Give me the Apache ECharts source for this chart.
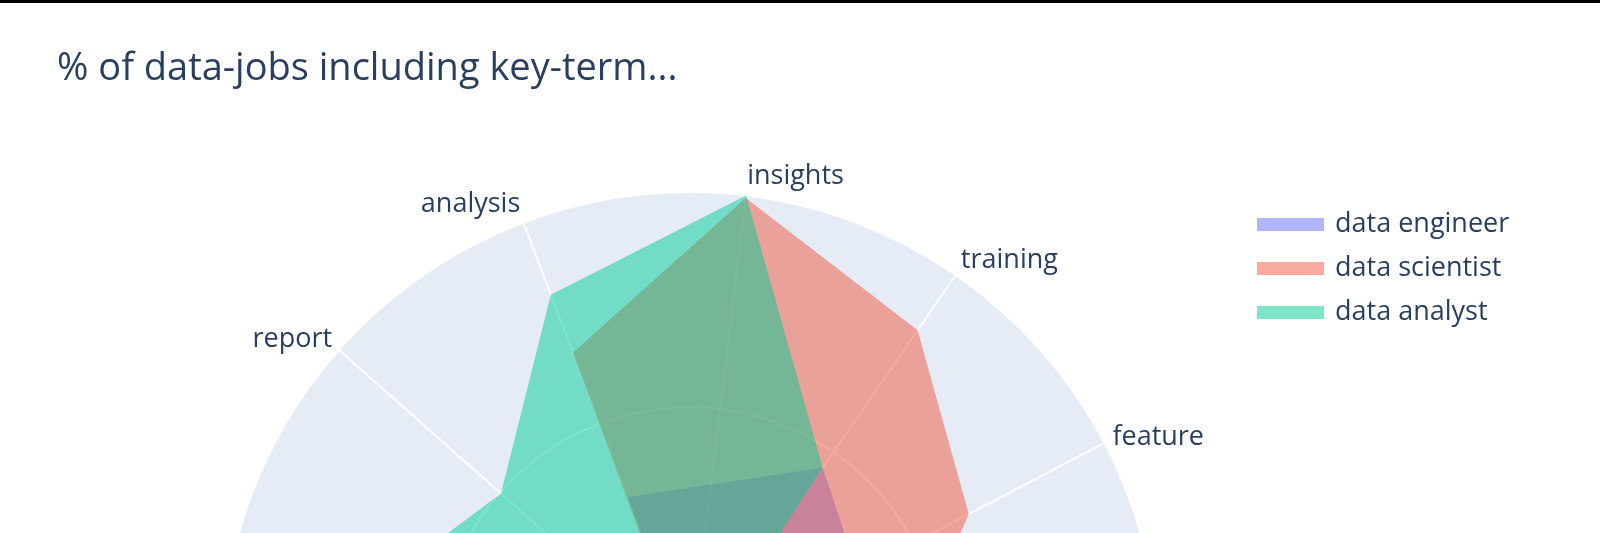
<!DOCTYPE html>
<html><head><meta charset="utf-8">
<script src="https://cdn.jsdelivr.net/npm/echarts@6/dist/echarts.min.js"></script>
<style>html,body{margin:0;padding:0;background:#fff}#c{width:1600px;height:533px}</style>
</head><body><div id="c"></div>
<script>
// ---- data ----
const categories = ['model', 'feature', 'training', 'insights', 'analysis', 'report', 'dashboard', 'sql', 'python', 'pipeline', 'cloud', 'etl', 'statistics'];
const seriesNames = ['data engineer', 'data scientist', 'data analyst'];
const engineerValues = [6, 15, 18.5, 14, 13.8, 0.2, 2, 30, 28, 35, 25, 22, 5];
const scientistValues = [17, 24.9, 31.7, 36.8, 26, 0.4, 3, 20, 30, 8, 10, 3, 25];
const analystValues = [2.5, 1.1, 18.5, 37, 30.9, 19.9, 25.2, 34, 20, 6, 4, 5, 15];
const radialMax = 37;
const radialTickStep = 20;
const titleText = '% of data-jobs including key-term...';

// ---- style ----
const fills = ['rgba(99,110,250,0.5)', 'rgba(239,85,59,0.5)', 'rgba(0,204,150,0.5)'];
const textColor = '#2a3f5f';
const font = 'Open Sans';
const center = [689.6, 660.6];
const radius = 468.5;

const chart = echarts.init(document.getElementById('c'), null, { renderer: 'canvas' });
const valueSets = [engineerValues, scientistValues, analystValues];

// per-spoke label styles (plotly-like placement: labels lifted more near the top)
const nameRich = {};
categories.forEach(function (n, i) {
  const s = Math.sin(i * 2 * Math.PI / categories.length);
  const pad = 35.8 * s - 14.4;
  const p = pad >= 0 ? [0, 0, Math.round(pad), 0] : [Math.round(-pad), 0, 0, 0];
  nameRich['r' + i] = { color: textColor, fontFamily: font, fontSize: 27, padding: p };
});

const option = {
  backgroundColor: '#ffffff',
  animation: false,
  title: {
    text: titleText, left: 52, top: 45,
    textStyle: { fontFamily: font, fontSize: 38, fontWeight: 'normal', color: textColor }
  },
  legend: {
    orient: 'vertical', left: 1252, top: 206,
    itemWidth: 67, itemHeight: 13, itemGap: 17, icon: 'rect',
    selectedMode: false,
    data: seriesNames,
    itemStyle: { borderWidth: 0 },
    textStyle: { fontFamily: font, fontSize: 27, color: textColor, lineHeight: 26, padding: [0, 0, 0, 6] }
  },
  graphic: [{ type: 'rect', left: 0, top: 0, shape: { width: 1600, height: 3 }, style: { fill: '#000' }, z: 100 }],
  polar: [{ center: center, radius: radius }, { center: center, radius: radius }],
  angleAxis: [
    { polarIndex: 0, type: 'category', data: categories, boundaryGap: false, startAngle: 0, clockwise: false,
      axisLine: { show: false }, axisTick: { show: false }, axisLabel: { show: false }, splitLine: { show: false }, z: 0 },
    { polarIndex: 1, type: 'category', data: categories, boundaryGap: false, startAngle: 0, clockwise: false,
      axisLine: { show: false }, axisTick: { show: false }, axisLabel: { show: false },
      splitLine: { show: true, lineStyle: { color: '#ffffff', width: 2 } }, z: 1 }
  ],
  radiusAxis: [
    { polarIndex: 0, type: 'value', min: 0, max: radialMax,
      axisLine: { show: false }, axisTick: { show: false }, axisLabel: { show: false },
      splitLine: { show: false }, splitArea: { show: true, areaStyle: { color: ['#E5ECF6'] } }, z: 0 },
    { polarIndex: 1, type: 'value', min: 0, max: radialMax, interval: radialTickStep,
      axisLine: { show: false }, axisTick: { show: false }, axisLabel: { show: false },
      splitLine: { show: true, lineStyle: { color: '#ffffff', width: 2 } }, splitArea: { show: false }, z: 1 }
  ],
  radar: {
    center: center, radius: radius, startAngle: 0, shape: 'circle',
    indicator: categories.map(function (n) { return { name: n, min: 0, max: radialMax }; }),
    nameGap: 9,
    axisName: {
      color: textColor, fontFamily: font, fontSize: 27,
      formatter: function (name) { return '{r' + categories.indexOf(name) + '|' + name + '}'; },
      rich: nameRich
    },
    axisLine: { show: false }, splitLine: { show: false }, splitArea: { show: false }, axisTick: { show: false }, axisLabel: { show: false }
  },
  series: [{
    type: 'radar', symbol: 'none', z: 3,
    data: seriesNames.map(function (name, i) {
      return {
        name: name, value: valueSets[i],
        itemStyle: { color: fills[i] },
        lineStyle: { width: 0, opacity: 0 },
        areaStyle: { color: fills[i], opacity: 1 }
      };
    })
  }]
};
chart.setOption(option);
</script></body></html>
